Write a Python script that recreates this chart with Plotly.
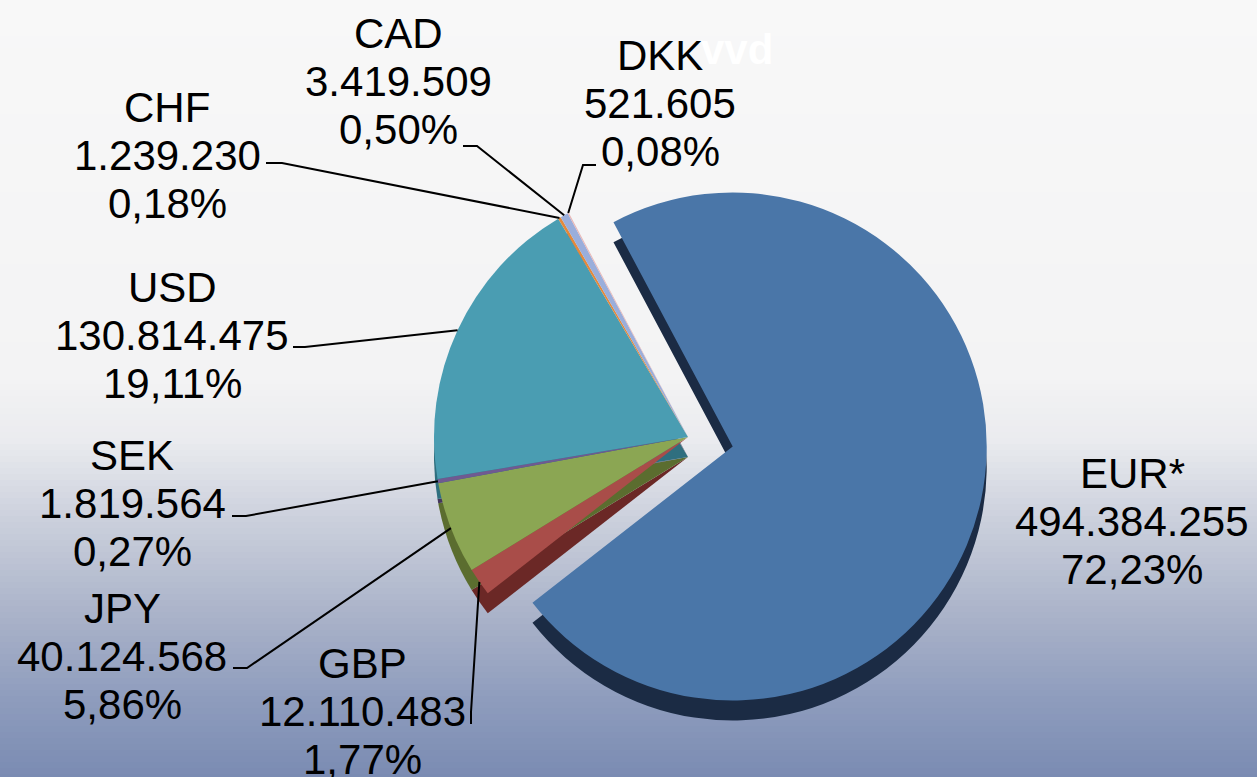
import math
import plotly.graph_objects as go

# ---------------- data ----------------
currencies = ["EUR*", "GBP", "JPY", "SEK", "USD", "CHF", "CAD", "DKK"]
amounts = [494384255, 12110483, 40124568, 1819564, 130814475, 1239230, 3419509, 521605]

top_colors = ["#4A76A8", "#A94D49", "#8BA653", "#6F5A91", "#4A9DB2", "#E4893A", "#9AAEDB", "#E8B7B6"]
side_colors = ["#1B2B44", "#6B2826", "#5B6D2F", "#44365C", "#2F6F7F", "#5E3816", "#5F7096", "#9C7575"]
pulls = [0.18, 0, 0, 0, 0, 0, 0, 0]

# ---------------- layout helpers ----------------
W, H = 1257, 777
def X(px): return px / W
def Y(py): return 1 - py / H

ROTATION = -28
CX, CY, R = 688, 437, 254          # pie centre / radius in pixels
HALF = R * (1 + max(pulls))
DEPTH = 20                          # 3D thickness in pixels

def dom(dy=0):
    return dict(x=[X(CX - HALF), X(CX + HALF)],
                y=[Y(CY + dy + HALF), Y(CY + dy - HALF)])

total = sum(amounts)
def fmt_val(v): return f"{v:,}".replace(",", ".")
def fmt_pct(v): return f"{v / total * 100:.2f}".replace(".", ",") + "%"

fig = go.Figure()

# shadow (side) pie
fig.add_trace(go.Pie(labels=currencies, values=amounts, sort=False, direction="clockwise",
                     rotation=ROTATION, pull=pulls, domain=dom(DEPTH), textinfo="none",
                     marker=dict(colors=side_colors, line=dict(width=0)),
                     hoverinfo="skip", showlegend=False))
# top pie
fig.add_trace(go.Pie(labels=currencies, values=amounts, sort=False, direction="clockwise",
                     rotation=ROTATION, pull=pulls, domain=dom(0), textinfo="none",
                     marker=dict(colors=top_colors, line=dict(width=0)),
                     hovertemplate="%{label}<br>%{value:,}<br>%{percent:.2%}<extra></extra>",
                     showlegend=False))

# ---------------- background gradient ----------------
stops = [(0, (248, 248, 248)), (380, (243, 243, 244)), (440, (234, 235, 239)),
         (520, (203, 208, 220)), (620, (168, 177, 200)), (700, (142, 156, 189)),
         (777, (122, 139, 178))]
def col_at(py):
    for (y0, c0), (y1, c1) in zip(stops[:-1], stops[1:]):
        if y0 <= py <= y1:
            t = (py - y0) / (y1 - y0)
            return "rgb(%d,%d,%d)" % tuple(round(a + (b - a) * t) for a, b in zip(c0, c1))
    return "rgb(%d,%d,%d)" % stops[-1][1]

shapes = []
band = 6
for py in range(0, H, band):
    shapes.append(dict(type="rect", xref="paper", yref="paper", layer="below",
                       x0=0, x1=1, y0=Y(py + band + 1), y1=Y(py),
                       fillcolor=col_at(py + band / 2), line=dict(width=0)))

# ---------------- labels ----------------
label_pos = {  # centre x, first line y, leader start, leader elbow
    "EUR*": (1132, 473, None, None),
    "GBP": (362, 663, (471, 724), (471, 712)),
    "JPY": (122, 608, (233, 668), (247, 668)),
    "SEK": (132, 455, (232, 516), (246, 516)),
    "USD": (172, 287, (293, 347), (305, 347)),
    "CHF": (167, 107, (266, 163), (282, 163)),
    "CAD": (398, 33, (463, 146), (477, 146)),
    "DKK": (660, 55, (596, 165), (583, 165)),
}
LINE = 48
FONT = dict(family="Liberation Sans, Arial, sans-serif", size=42, color="black")

annotations = []
start = ROTATION
for name, v in zip(currencies, amounts):
    span = v / total * 360
    mid = math.radians(start + span / 2)
    start += span
    ax_, ay_ = CX + R * math.sin(mid), CY - R * math.cos(mid)
    lx, ly, s, e = label_pos[name]
    for i, t in enumerate([name, fmt_val(v), fmt_pct(v)]):
        annotations.append(dict(x=X(lx), y=Y(ly + i * LINE), xref="paper", yref="paper",
                                text=t, showarrow=False, xanchor="center", yanchor="middle",
                                font=FONT))
    if s is not None:
        path = "M %f %f L %f %f L %f %f" % (X(s[0]), Y(s[1]), X(e[0]), Y(e[1]), X(ax_), Y(ay_))
        shapes.append(dict(type="path", xref="paper", yref="paper", path=path,
                           line=dict(color="black", width=2)))

annotations.append(dict(x=X(737), y=Y(50), xref="paper", yref="paper", text="<b>vvd</b>",
                        showarrow=False, xanchor="center", yanchor="middle",
                        font=dict(family="Liberation Sans, Arial, sans-serif", size=42, color="white")))

fig.update_layout(width=W, height=H, margin=dict(l=0, r=0, t=0, b=0),
                  paper_bgcolor="#F7F7F7", plot_bgcolor="#F7F7F7",
                  shapes=shapes, annotations=annotations, showlegend=False)

fig.write_html("out.html", config={"displayModeBar": False},
               post_script="document.body.style.margin='0';document.body.style.overflow='hidden';")
